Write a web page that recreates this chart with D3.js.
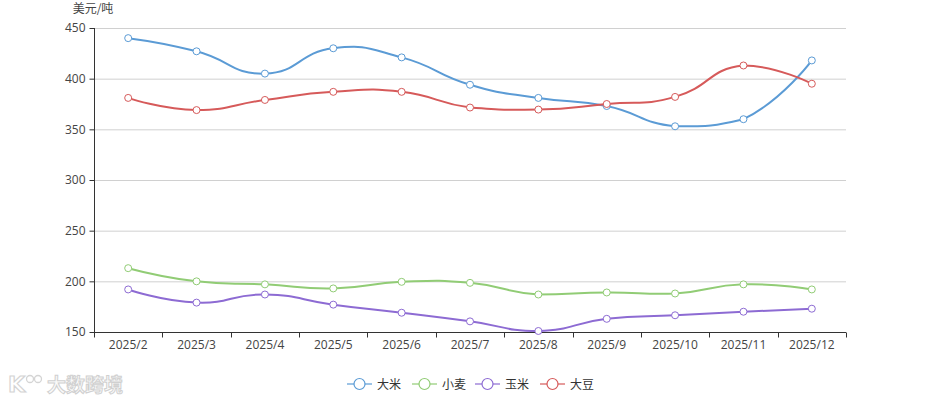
<!DOCTYPE html>
<html><head><meta charset="utf-8">
<script src="https://cdn.jsdelivr.net/npm/d3@7"></script>
<style>body{margin:0;background:#fff}svg{display:block;font-family:"Noto Sans CJK SC","Open Sans",sans-serif}</style>
</head><body>
<svg id="c" width="940" height="405"></svg>
<script>
const months = ["2025/2","2025/3","2025/4","2025/5","2025/6","2025/7","2025/8","2025/9","2025/10","2025/11","2025/12"];
const seriesNames = ["大米","小麦","玉米","大豆"];
const rice = [440,427,405,430,421,394,381,373,353,360,418];
const wheat = [213,200,197,193,199.5,198.5,187,189,188,197,192];
const corn = [192,179,187,177,169,160.5,151,163,166.5,170,173];
const soybean = [381,369,379,387,387,371.5,369.5,375,382,413,395];
const colors = ["#5b9bd5","#91cc75","#8d6bd3","#d65a5a"];
const yTicks = [150,200,250,300,350,400,450];
const yTitle = "美元/吨";
const watermark = "大数跨境";

const svg = d3.select("#c");
const L=94,R=846,T=28,B=332;
const x = d3.scaleBand().domain(months).range([L,R]);
const y = d3.scaleLinear().domain([150,450]).range([B,T]);

// grid
svg.append("g").selectAll("line").data(yTicks.filter(v=>v>150)).join("line")
 .attr("x1",L).attr("x2",R).attr("y1",d=>y(d)+0.5).attr("y2",d=>y(d)+0.5)
 .attr("stroke","#d0d0d0").attr("stroke-width",1);

// y axis
const ya = svg.append("g").attr("transform",`translate(${L+0.5},0)`)
 .call(d3.axisLeft(y).tickValues(yTicks).tickSize(5).tickPadding(4));
ya.select(".domain").attr("stroke","#333").attr("d",`M-0,${B}V${T}`);
ya.selectAll(".tick line").attr("stroke","#333");
ya.selectAll("text").attr("fill","#444").attr("font-size",12).style("font-family","'Open Sans','Noto Sans',sans-serif");

// x axis
const xa = svg.append("g").attr("transform",`translate(0,${B+0.5})`)
 .call(d3.axisBottom(x).tickSize(0).tickPadding(8));
xa.select(".domain").attr("stroke","#333").attr("d",`M${L},0H${R}`);
xa.selectAll("text").attr("fill","#444").attr("font-size",12).style("font-family","'Open Sans','Noto Sans',sans-serif");
const bounds = months.map(m=>x(m)).concat([R]);
xa.selectAll(".bt").data(bounds).join("line").attr("class","bt")
 .attr("x1",d=>Math.round(d)+0.5).attr("x2",d=>Math.round(d)+0.5).attr("y1",0).attr("y2",5).attr("stroke","#333");

// y title
svg.append("text").attr("x",93).attr("y",13).attr("text-anchor","middle")
 .attr("font-size",12).attr("fill","#444").text(yTitle);

// smooth path in the style of a constrained bezier smoothing
function smoothPath(pts, smooth){
  const p = d3.path();
  const minY = d3.min(pts,d=>d[1]), maxY = d3.max(pts,d=>d[1]);
  const minX = d3.min(pts,d=>d[0]), maxX = d3.max(pts,d=>d[0]);
  const cl = (c)=>[Math.max(minX,Math.min(maxX,c[0])), Math.max(minY,Math.min(maxY,c[1]))];
  const cps = [pts[0].slice()];
  for(let i=1;i<pts.length-1;i++){
    const pr=pts[i-1], pt=pts[i], nx=pts[i+1];
    const vx=(nx[0]-pr[0])*smooth, vy=(nx[1]-pr[1])*smooth;
    let d0=Math.hypot(pt[0]-pr[0],pt[1]-pr[1]), d1=Math.hypot(nx[0]-pt[0],nx[1]-pt[1]);
    const s=d0+d1; if(s){d0/=s;d1/=s;}
    cps.push(cl([pt[0]-vx*d0, pt[1]-vy*d0]));
    cps.push(cl([pt[0]+vx*d1, pt[1]+vy*d1]));
  }
  cps.push(pts[pts.length-1].slice());
  p.moveTo(pts[0][0],pts[0][1]);
  for(let i=0;i<pts.length-1;i++){
    const a=cps[2*i], b=cps[2*i+1], e=pts[i+1];
    p.bezierCurveTo(a[0],a[1],b[0],b[1],e[0],e[1]);
  }
  return p.toString();
}

const data = [rice,wheat,corn,soybean];
data.forEach((vals,si)=>{
  const pts = vals.map((d,i)=>[x(months[i])+x.bandwidth()/2, y(d)]);
  const g = svg.append("g");
  g.append("path").attr("d",smoothPath(pts,0.5)).attr("fill","none").attr("stroke",colors[si]).attr("stroke-width",2);
  g.selectAll("circle").data(vals).join("circle")
   .attr("cx",(d,i)=>x(months[i])+x.bandwidth()/2).attr("cy",d=>y(d)).attr("r",3.5)
   .attr("fill","#fff").attr("stroke",colors[si]).attr("stroke-width",1);
});

// legend
const legX = [347,412,475,540];
seriesNames.forEach((n,i)=>{
  const g = svg.append("g").attr("transform",`translate(${legX[i]},384)`);
  g.append("line").attr("x1",0).attr("x2",25).attr("y1",0).attr("y2",0).attr("stroke",colors[i]).attr("stroke-width",1.2);
  g.append("circle").attr("cx",12.5).attr("cy",0).attr("r",5.5).attr("fill","#fff").attr("stroke",colors[i]).attr("stroke-width",1.2);
  g.append("text").attr("x",30).attr("y",4.5).attr("font-size",12).attr("fill","#333").text(n);
});

// watermark
const wm = svg.append("g");
wm.append("text").attr("x",8).attr("y",392).attr("font-size",22).attr("font-weight","bold")
 .attr("fill","#fff").attr("stroke","#d4d4d4").attr("stroke-width",1.2).style("font-family","'DejaVu Sans',sans-serif").text("K");
wm.append("circle").attr("cx",30).attr("cy",379).attr("r",3.5).attr("fill","#fff").attr("stroke","#d4d4d4").attr("stroke-width",1.3);
wm.append("circle").attr("cx",38).attr("cy",379).attr("r",3.5).attr("fill","#fff").attr("stroke","#d4d4d4").attr("stroke-width",1.3);
wm.append("text").attr("x",47).attr("y",392).attr("font-size",19).attr("font-weight","bold")
 .attr("fill","#fafafa").attr("stroke","#d0d0d0").attr("stroke-width",1).text(watermark);
</script>
</body></html>
